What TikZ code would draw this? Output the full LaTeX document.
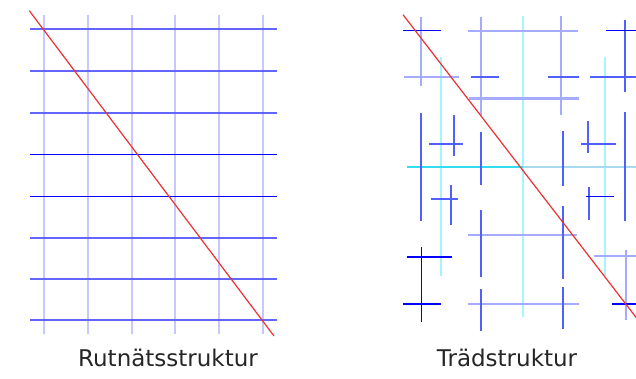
\documentclass[tikz,border=0pt]{standalone}
\usepackage{fontspec}
\setmainfont{DejaVu Sans}
\usetikzlibrary{positioning}
\definecolor{gridpale}{RGB}{200,200,255}
\definecolor{gridmid}{RGB}{100,100,255}
\definecolor{pureblue}{RGB}{0,0,255}
\definecolor{treepale}{RGB}{165,172,255}
\definecolor{treemid}{RGB}{80,96,255}
\definecolor{treecyan}{RGB}{165,245,255}
\definecolor{splitcyan}{RGB}{51,221,238}
\definecolor{splitpale}{RGB}{165,218,240}
\definecolor{cutred}{RGB}{235,50,50}
\tikzset{
  every picture/.style={x=1pt, y=-1pt, line cap=butt},
  colline/.style={draw=gridpale, line width=2.2pt},
  rowline/.style={draw=gridmid, line width=2.2pt},
  rowcore/.style={draw=pureblue, line width=1.4pt},
  cyanline/.style={draw=treecyan, line width=1.8pt},
  paleline/.style={draw=treepale, line width=2.2pt},
  midline/.style={draw=treemid, line width=2.2pt},
  deepline/.style={draw=pureblue, line width=1.5pt},
  cutline/.style={draw=cutred, line width=1.2pt},
  caption/.style={font=\fontsize{23}{27}\selectfont, text=black!85, inner sep=0pt},
}

\begin{document}
\begin{tikzpicture}
  \useasboundingbox (0,0) rectangle (636,379);
  \begin{scope}
    \clip (0,0) rectangle (636,379);
    % grid
    \foreach \x in {44.3,88,131.7,175.3,219,262.7}
      \draw[colline] (\x,14.7) -- (\x,334.3);
    \foreach \y in {29.3,71,112.9,237.7,279.3,320.3}
      \draw[rowline] (30,\y) -- (277.3,\y);
    \foreach \y in {154.3,196.3}
      \draw[rowcore] (30,\y) -- (277.3,\y);
    \draw[cutline] (29.3,10.7) -- (274,336);

    % tree
    \foreach \x/\a/\b in {440.7/56.7/276.3, 523.3/16.3/317.3, 605.3/57.3/276.3}
      \draw[cyanline] (\x,\a) -- (\x,\b);
    \draw[draw=splitpale, line width=2.2pt] (523.3,167) -- (636,167);
    \draw[draw=splitcyan, line width=2.2pt] (407,167) -- (523.3,167);
    \foreach \x/\a/\b in {420.7/17.3/86, 481.3/17.3/116, 561/16.3/114.7, 626/250.3/319.7}
      \draw[paleline] (\x,\a) -- (\x,\b);
    \foreach \y/\a/\b in {77.3/404.3/459, 30.7/468.3/578.3, 98.5/469/578.5,
                          235.3/468/577, 303.7/468/578.7, 255.7/594.3/636}
      \draw[paleline] (\a,\y) -- (\b,\y);
    \foreach \x/\a/\b in {420.7/112.7/221.3, 453.7/115/156.3, 481.3/132/184.7,
                          450.7/184.7/225.3, 481.3/209.7/277.3, 481.3/288.7/331.3,
                          562.7/131.3/186.3, 587.7/121.3/153, 625.3/112/221.3,
                          588.7/187/219.7, 562.7/206.3/278.7, 562.7/287.3/329,
                          625.3/20.3/92}
      \draw[midline] (\x,\a) -- (\x,\b);
    \foreach \y/\a/\b in {143.7/429/463, 198.7/430.7/458, 143.7/581/616,
                          77/470.7/498.7, 77/548.3/579.3, 77/590/636}
      \draw[midline] (\a,\y) -- (\b,\y);
    \draw[deepline] (421.3,247) -- (421.3,322);
    \foreach \y/\a/\b in {30.7/403/441, 30.7/605.5/636, 257/407/452,
                          304/402.7/441.3, 196.3/586/613.7, 304/612/636}
      \draw[deepline] (\a,\y) -- (\b,\y);
    \draw[cutline] (403,14.7) -- (640,322.5);
  \end{scope}

  \node[caption] (gridname) at (168,358) {Rutnätsstruktur};
  \node[caption] (treename) at (507,358) {Trädstruktur};
\end{tikzpicture}
\end{document}
